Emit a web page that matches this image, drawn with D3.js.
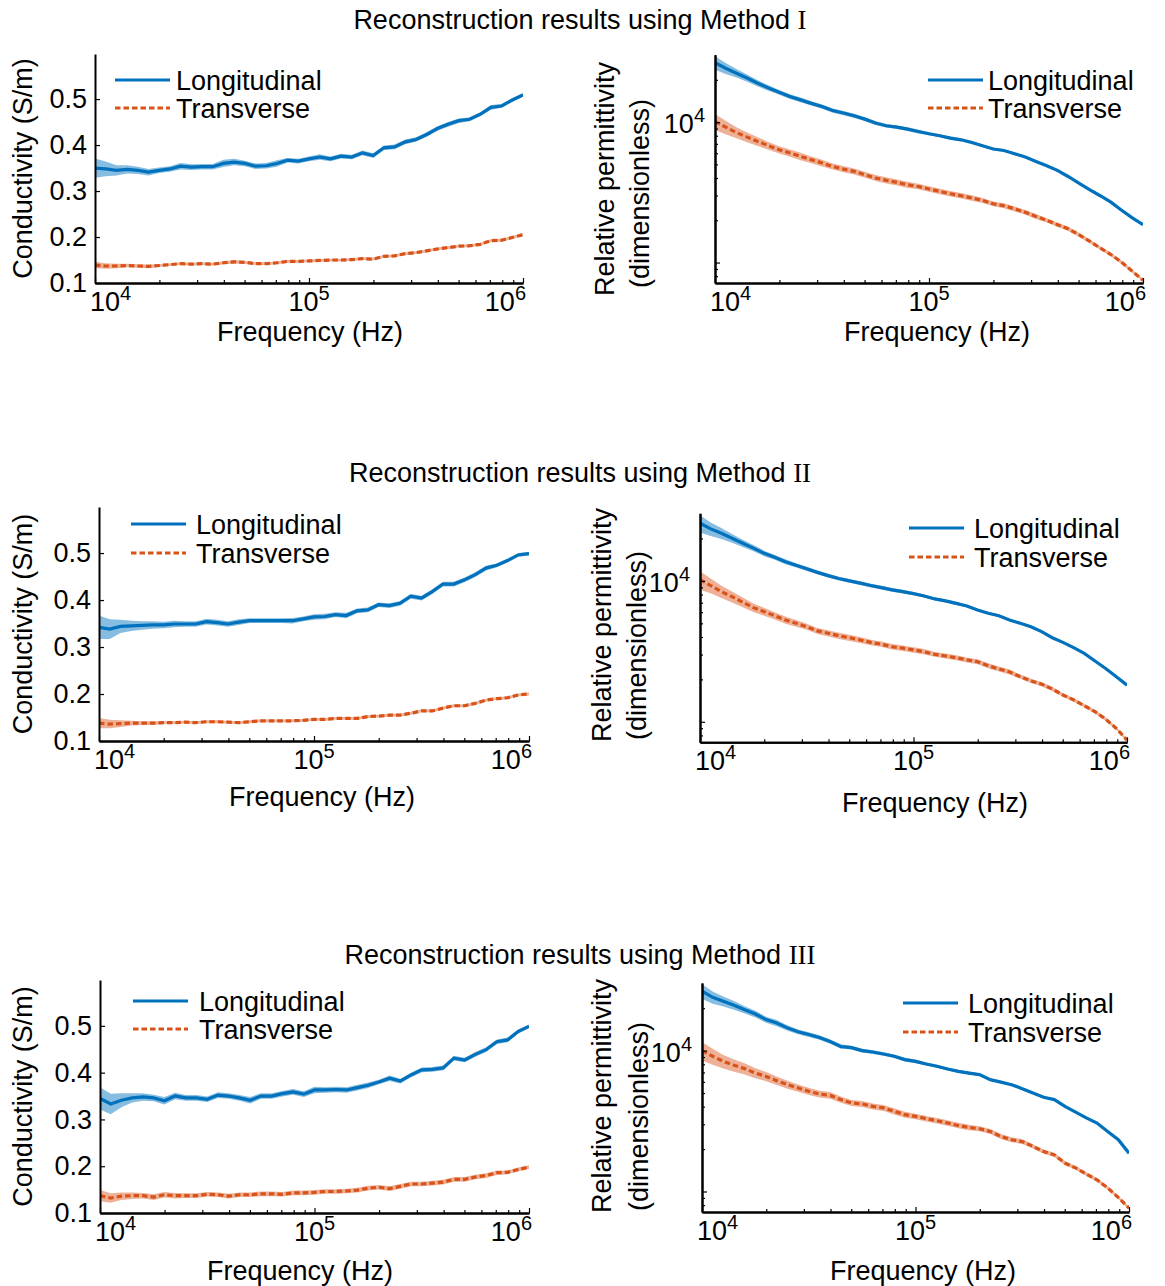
<!DOCTYPE html>
<html><head><meta charset="utf-8">
<script src="https://cdn.jsdelivr.net/npm/d3@7"></script>
<style>
body{margin:0;background:#fff}
text{font-family:"Liberation Sans",Arial,sans-serif;fill:#000}
</style></head>
<body><svg id="c" width="1165" height="1286"></svg>
<script>
// ---------------- DATA ----------------
const FREQ = [10000,11220,12589,14125,15849,17783,19953,22387,25119,28184,
  31623,35481,39811,44668,50119,56234,63096,70795,79433,89125,
  100000,112202,125893,141254,158489,177828,199526,223872,251189,281838,
  316228,354813,398107,446684,501187,562341,630957,707946,794328,891251,
  1000000];

const titles = ["Method ", "I", "II", "III"];
const seriesNames = ["Longitudinal", "Transverse"];
const xTickExp = ["4", "5", "6"];
const condTicks = [0.1, 0.2, 0.3, 0.4, 0.5];
const condDomain = [0.1, 0.598];
const permDomain = [715, 30200];

// Method I conductivity (S/m): mean and half-width of band
const m1CondLong = [0.350,0.348,0.345,0.347,0.345,0.341,0.345,0.348,0.354,0.352,
  0.353,0.353,0.360,0.363,0.360,0.354,0.355,0.360,0.367,0.365,
  0.370,0.374,0.370,0.376,0.374,0.383,0.377,0.394,0.396,0.407,
  0.412,0.423,0.436,0.445,0.453,0.456,0.467,0.482,0.485,0.498,
  0.509];
const m1CondLongSd = [0.021,0.016,0.011,0.009,0.008,0.007,0.006,0.006,0.007,0.006,
  0.006,0.006,0.008,0.007,0.006,0.006,0.006,0.007,0.005,0.005,
  0.005,0.006,0.005,0.005,0.005,0.005,0.005,0.005,0.005,0.005,
  0.005,0.005,0.005,0.005,0.005,0.004,0.004,0.005,0.004,0.004,
  0.004];
const m1CondTrans = [0.139,0.137,0.137,0.138,0.137,0.136,0.138,0.140,0.142,0.141,
  0.142,0.141,0.144,0.146,0.145,0.142,0.142,0.144,0.147,0.147,
  0.148,0.149,0.150,0.150,0.151,0.153,0.152,0.158,0.159,0.164,
  0.166,0.170,0.174,0.177,0.180,0.181,0.184,0.192,0.193,0.199,
  0.205];
const m1CondTransSd = [0.007,0.006,0.005,0.004,0.004,0.004,0.003,0.003,0.003,0.003,
  0.003,0.003,0.003,0.004,0.003,0.003,0.003,0.003,0.003,0.003,
  0.003,0.003,0.003,0.003,0.003,0.003,0.003,0.003,0.003,0.003,
  0.003,0.003,0.003,0.003,0.003,0.003,0.003,0.003,0.003,0.003,
  0.003];
// Method I relative permittivity: mean and relative band half-width
const m1PermLong = [26500,24200,22300,20600,18900,17500,16300,15200,14400,13600,
  12900,12100,11600,11100,10500,9840,9420,9200,8910,8570,
  8260,8000,7690,7480,7160,6790,6430,6280,5960,5640,
  5250,4890,4530,4100,3680,3300,2990,2690,2360,2080,
  1860];
const m1PermLongSd = [0.11,0.09,0.07,0.06,0.05,0.045,0.04,0.04,0.04,0.035,
  0.035,0.035,0.035,0.035,0.03,0.03,0.03,0.03,0.03,0.03,
  0.025,0.025,0.025,0.025,0.025,0.02,0.02,0.02,0.02,0.02,
  0.02,0.02,0.02,0.02,0.02,0.02,0.02,0.02,0.02,0.015,
  0.015];
const m1PermTrans = [10090,9200,8430,7820,7280,6790,6350,6030,5700,5400,
  5120,4830,4630,4460,4220,4000,3850,3720,3580,3480,
  3340,3210,3090,2990,2880,2770,2620,2540,2410,2280,
  2130,2000,1860,1740,1580,1420,1270,1140,1005,867,
  748];
const m1PermTransSd = [0.13,0.11,0.09,0.08,0.07,0.065,0.06,0.06,0.06,0.055,
  0.055,0.05,0.05,0.05,0.05,0.05,0.05,0.05,0.05,0.045,
  0.045,0.045,0.045,0.045,0.045,0.04,0.04,0.04,0.04,0.04,
  0.04,0.035,0.035,0.035,0.035,0.03,0.03,0.03,0.03,0.025,
  0.025];

// Method II
const m2CondLong = [0.342,0.338,0.344,0.345,0.346,0.347,0.347,0.349,0.349,0.349,
  0.354,0.352,0.349,0.353,0.356,0.356,0.356,0.356,0.356,0.360,
  0.364,0.365,0.369,0.367,0.377,0.379,0.390,0.388,0.393,0.408,
  0.404,0.418,0.434,0.434,0.443,0.454,0.468,0.474,0.484,0.496,
  0.499];
const m2CondLongSd = [0.025,0.021,0.014,0.011,0.009,0.008,0.007,0.007,0.006,0.006,
  0.006,0.006,0.006,0.006,0.005,0.005,0.005,0.005,0.006,0.005,
  0.006,0.006,0.005,0.006,0.005,0.005,0.005,0.005,0.005,0.005,
  0.005,0.005,0.005,0.005,0.005,0.005,0.005,0.004,0.004,0.004,
  0.004];
const m2CondTrans = [0.138,0.136,0.137,0.138,0.138,0.138,0.139,0.139,0.140,0.139,
  0.141,0.141,0.140,0.139,0.141,0.143,0.143,0.143,0.143,0.144,
  0.146,0.146,0.148,0.148,0.148,0.152,0.153,0.155,0.155,0.159,
  0.164,0.164,0.170,0.175,0.175,0.180,0.187,0.190,0.192,0.198,
  0.200];
const m2CondTransSd = [0.011,0.009,0.007,0.005,0.004,0.004,0.003,0.003,0.003,0.003,
  0.003,0.003,0.003,0.003,0.003,0.003,0.003,0.003,0.003,0.003,
  0.003,0.003,0.003,0.003,0.003,0.003,0.003,0.003,0.003,0.003,
  0.003,0.003,0.003,0.003,0.003,0.003,0.003,0.003,0.003,0.003,
  0.003];
const m2PermLong = [25700,23400,21800,20100,18500,17100,15700,14700,13700,12900,
  12200,11500,10900,10400,10000,9640,9270,8970,8630,8390,
  8130,7820,7450,7210,6930,6640,6220,5890,5660,5280,
  5000,4730,4370,3950,3660,3360,3060,2700,2390,2090,
  1820];
const m2PermLongSd = [0.14,0.11,0.09,0.07,0.06,0.05,0.045,0.04,0.04,0.035,
  0.035,0.03,0.03,0.03,0.03,0.03,0.03,0.03,0.03,0.03,
  0.025,0.025,0.025,0.025,0.025,0.02,0.02,0.02,0.02,0.02,
  0.02,0.02,0.02,0.02,0.02,0.02,0.02,0.02,0.02,0.015,
  0.015];
const m2PermTrans = [10200,9270,8390,7730,7060,6460,6050,5660,5280,5000,
  4730,4420,4250,4080,3950,3810,3660,3550,3410,3330,
  3240,3140,3010,2930,2850,2750,2670,2500,2370,2260,
  2090,1950,1850,1710,1550,1430,1300,1180,1045,897,
  741];
const m2PermTransSd = [0.15,0.12,0.1,0.09,0.08,0.07,0.065,0.06,0.06,0.055,
  0.05,0.05,0.05,0.05,0.05,0.05,0.045,0.045,0.045,0.045,
  0.045,0.045,0.04,0.04,0.04,0.04,0.04,0.04,0.04,0.04,
  0.035,0.035,0.035,0.035,0.03,0.03,0.03,0.03,0.03,0.025,
  0.025];

// Method III
const m3CondLong = [0.345,0.333,0.341,0.346,0.348,0.346,0.340,0.350,0.346,0.346,
  0.343,0.352,0.350,0.346,0.341,0.350,0.350,0.355,0.359,0.354,
  0.363,0.363,0.364,0.363,0.368,0.373,0.380,0.388,0.382,0.395,
  0.406,0.407,0.410,0.431,0.427,0.439,0.449,0.466,0.470,0.488,
  0.499];
const m3CondLongSd = [0.024,0.022,0.015,0.010,0.008,0.007,0.008,0.007,0.006,0.006,
  0.006,0.006,0.006,0.006,0.007,0.006,0.006,0.006,0.006,0.006,
  0.007,0.006,0.006,0.006,0.006,0.006,0.005,0.006,0.005,0.005,
  0.005,0.005,0.005,0.005,0.005,0.005,0.005,0.005,0.005,0.004,
  0.004];
const m3CondTrans = [0.137,0.132,0.136,0.137,0.137,0.134,0.139,0.137,0.137,0.137,
  0.140,0.139,0.136,0.139,0.139,0.141,0.141,0.140,0.143,0.143,
  0.144,0.146,0.146,0.147,0.149,0.153,0.155,0.152,0.157,0.162,
  0.162,0.164,0.166,0.172,0.172,0.177,0.180,0.186,0.187,0.193,
  0.198];
const m3CondTransSd = [0.012,0.010,0.008,0.007,0.006,0.006,0.006,0.006,0.005,0.005,
  0.005,0.005,0.005,0.005,0.005,0.005,0.005,0.005,0.005,0.005,
  0.005,0.005,0.005,0.005,0.005,0.005,0.005,0.005,0.005,0.005,
  0.005,0.005,0.005,0.005,0.005,0.005,0.005,0.005,0.004,0.004,
  0.004];
const m3PermLong = [26400,23900,22400,21000,19500,18200,16600,15700,14500,13600,
  13000,12400,11600,10700,10500,10000,9770,9460,9120,8630,
  8390,8040,7740,7410,7130,6930,6750,6220,5980,5730,
  5370,5000,4660,4490,4020,3660,3330,3060,2670,2330,
  1870];
const m3PermLongSd = [0.12,0.1,0.08,0.07,0.06,0.055,0.05,0.05,0.045,0.04,
  0.04,0.035,0.035,0.035,0.03,0.03,0.03,0.03,0.03,0.03,
  0.03,0.025,0.025,0.025,0.025,0.025,0.02,0.02,0.02,0.02,
  0.02,0.02,0.02,0.02,0.02,0.02,0.02,0.02,0.02,0.015,
  0.015];
const m3PermTrans = [10000,9120,8390,7870,7450,6930,6560,6120,5730,5430,
  5140,4920,4810,4490,4250,4180,4020,3920,3710,3510,
  3410,3290,3180,3060,2940,2850,2790,2670,2460,2330,
  2260,2090,1920,1820,1590,1470,1330,1210,1060,906,
  762];
const m3PermTransSd = [0.15,0.13,0.11,0.1,0.09,0.08,0.075,0.07,0.065,0.06,
  0.06,0.055,0.055,0.05,0.05,0.05,0.05,0.05,0.05,0.05,
  0.045,0.045,0.045,0.045,0.045,0.045,0.04,0.04,0.04,0.04,
  0.04,0.035,0.035,0.035,0.035,0.03,0.03,0.03,0.03,0.025,
  0.025];

// ---------------- LAYOUT ----------------
const BLUE = "#0072BD", ORANGE = "#D95319";
const FS = 27, SUP = 20;
const DASH = "5.5,3";
const svg = d3.select("#c");

const layout = [
  {id:1, kind:"cond", long:m1CondLong, longSd:m1CondLongSd, trans:m1CondTrans, transSd:m1CondTransSd,
   x0:95, x1:523, y0:54, y1:283, ylx:32, xl:{x:310,y:341}, leg:{x:115,y:80,tx:176,dy:28}},
  {id:2, kind:"perm", long:m1PermLong, longSd:m1PermLongSd, trans:m1PermTrans, transSd:m1PermTransSd,
   x0:715, x1:1143, y0:54.7, y1:283, yl1:{x:614,y:296}, yl2:{x:649,y:288}, xl:{x:937,y:341}, leg:{x:928,y:80,tx:988,dy:28}},
  {id:3, kind:"cond", long:m2CondLong, longSd:m2CondLongSd, trans:m2CondTrans, transSd:m2CondTransSd,
   x0:99, x1:529, y0:507, y1:741, ylx:32, xl:{x:322,y:806}, leg:{x:131,y:524,tx:196,dy:29}},
  {id:4, kind:"perm", long:m2PermLong, longSd:m2PermLongSd, trans:m2PermTrans, transSd:m2PermTransSd,
   x0:700, x1:1127, y0:513.3, y1:742.3, yl1:{x:611,y:742}, yl2:{x:646,y:740}, xl:{x:935,y:812}, leg:{x:909,y:528,tx:974,dy:29}},
  {id:5, kind:"cond", long:m3CondLong, longSd:m3CondLongSd, trans:m3CondTrans, transSd:m3CondTransSd,
   x0:100, x1:529, y0:980, y1:1213, ylx:32, xl:{x:300,y:1280}, leg:{x:133,y:1001,tx:199,dy:28}},
  {id:6, kind:"perm", long:m3PermLong, longSd:m3PermLongSd, trans:m3PermTrans, transSd:m3PermTransSd,
   x0:702, x1:1129, y0:983, y1:1212, yl1:{x:611,y:1213}, yl2:{x:648,y:1211}, xl:{x:923,y:1280}, leg:{x:903,y:1003,tx:968,dy:29}}
];
const titleY = [29, 482, 964];

// titles
titleY.forEach((ty, k) => {
  const t = svg.append("text").attr("x", 580).attr("y", ty).attr("text-anchor", "middle").attr("font-size", FS);
  t.append("tspan").text("Reconstruction results using " + titles[0]);
  t.append("tspan").attr("font-family", "'Liberation Serif','Times New Roman',serif").text(titles[k + 1]);
});

function styleAxis(g) {
  g.attr("font-size", null).attr("font-family", null);
  g.select(".domain").attr("stroke", "#000").attr("stroke-width", 2);
  g.selectAll(".tick line").attr("stroke", "#000").attr("stroke-width", 1.2);
}

function drawPanel(p) {
  const g = svg.append("g");
  const x = d3.scaleLog().domain([1e4, 1e6]).range([p.x0, p.x1]);
  const isCond = p.kind === "cond";
  const y = isCond ? d3.scaleLinear().domain(condDomain).range([p.y1, p.y0])
                   : d3.scaleLog().domain(permDomain).range([p.y1, p.y0]);
  const lo = (v, s) => isCond ? v - s : v * (1 - s);
  const hi = (v, s) => isCond ? v + s : v * (1 + s);

  const clipId = "clip" + p.id;
  g.append("clipPath").attr("id", clipId).append("rect")
    .attr("x", p.x0).attr("y", p.y0).attr("width", p.x1 - p.x0).attr("height", p.y1 - p.y0);
  const plot = g.append("g").attr("clip-path", `url(#${clipId})`);

  const series = [
    {v:p.long, s:p.longSd, c:BLUE, op:0.47, dash:null},
    {v:p.trans, s:p.transSd, c:ORANGE, op:0.45, dash:DASH}
  ];
  series.forEach(se => {
    const area = d3.area().x((d, i) => x(FREQ[i]))
      .y0((d, i) => y(lo(d, se.s[i]))).y1((d, i) => y(hi(d, se.s[i])));
    plot.append("path").attr("d", area(se.v)).attr("fill", se.c).attr("fill-opacity", se.op);
  });
  series.forEach(se => {
    const line = d3.line().x((d, i) => x(FREQ[i])).y(d => y(d));
    plot.append("path").attr("d", line(se.v)).attr("fill", "none").attr("stroke", se.c)
      .attr("stroke-width", 3.2).attr("stroke-dasharray", se.dash);
  });

  // x axis
  const xMajor = [1e4, 1e5, 1e6];
  const xMinor = [];
  [1e4, 1e5].forEach(b => { for (let k = 2; k <= 9; k++) xMinor.push(b * k); });
  const gxm = g.append("g").attr("transform", `translate(0,${p.y1})`)
    .call(d3.axisBottom(x).tickValues(xMinor).tickSize(-3).tickSizeOuter(0).tickFormat(""));
  styleAxis(gxm);
  const gx = g.append("g").attr("transform", `translate(0,${p.y1})`)
    .call(d3.axisBottom(x).tickValues(xMajor).tickSize(-5).tickSizeOuter(0).tickFormat(""));
  styleAxis(gx);
  const anchors = ["start", "middle", "end"], dxs = [-5, 0, 3];
  xMajor.forEach((v, k) => {
    const t = g.append("text").attr("x", x(v) + dxs[k]).attr("y", p.y1 + 28)
      .attr("text-anchor", anchors[k]).attr("font-size", FS);
    t.append("tspan").text("10");
    t.append("tspan").attr("font-size", SUP).attr("dy", -11).text(xTickExp[k]);
  });
  g.append("text").attr("x", p.xl.x).attr("y", p.xl.y).attr("text-anchor", "middle")
    .attr("font-size", FS).text("Frequency (Hz)");

  // y axis
  if (isCond) {
    const gy = g.append("g").attr("transform", `translate(${p.x0},0)`)
      .call(d3.axisLeft(y).tickValues(condTicks).tickSize(-5).tickSizeOuter(0)
        .tickPadding(8).tickFormat(d3.format(".1f")));
    styleAxis(gy);
    gy.selectAll(".tick text").attr("font-size", FS).attr("fill", "#000");
    g.append("text").attr("transform", `translate(${p.ylx},${(p.y0 + p.y1) / 2}) rotate(-90)`)
      .attr("text-anchor", "middle").attr("font-size", FS).text("Conductivity (S/m)");
  } else {
    const yMinor = [800, 900, 2000, 3000, 4000, 5000, 6000, 7000, 8000, 9000, 20000];
    const gym = g.append("g").attr("transform", `translate(${p.x0},0)`)
      .call(d3.axisLeft(y).tickValues(yMinor).tickSize(-3).tickSizeOuter(0).tickFormat(""));
    styleAxis(gym);
    const gy = g.append("g").attr("transform", `translate(${p.x0},0)`)
      .call(d3.axisLeft(y).tickValues([1000, 10000]).tickSize(-5).tickSizeOuter(0).tickFormat(""));
    styleAxis(gy);
    const t = g.append("text").attr("x", p.x0 - 10).attr("y", y(10000) + 11)
      .attr("text-anchor", "end").attr("font-size", FS);
    t.append("tspan").text("10");
    t.append("tspan").attr("font-size", SUP).attr("dy", -11).text("4");
    g.append("text").attr("transform", `translate(${p.yl1.x},${p.yl1.y}) rotate(-90)`)
      .attr("text-anchor", "start").attr("font-size", FS).text("Relative permittivity");
    g.append("text").attr("transform", `translate(${p.yl2.x},${p.yl2.y}) rotate(-90)`)
      .attr("text-anchor", "start").attr("font-size", FS).text("(dimensionless)");
  }

  // legend
  const L = p.leg;
  [[BLUE, null, 0], [ORANGE, DASH, L.dy]].forEach(([c, dash, off], k) => {
    g.append("line").attr("x1", L.x).attr("x2", L.x + 55).attr("y1", L.y + off).attr("y2", L.y + off)
      .attr("stroke", c).attr("stroke-width", 3.2).attr("stroke-dasharray", dash);
    g.append("text").attr("x", L.tx).attr("y", L.y + off + 9.5).attr("font-size", FS).text(seriesNames[k]);
  });
}

layout.forEach(drawPanel);
</script></body></html>
